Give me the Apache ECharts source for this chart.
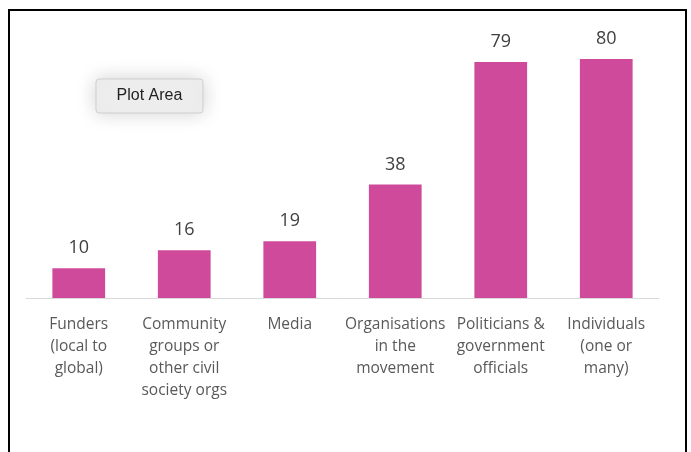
<!DOCTYPE html>
<html><head><meta charset="utf-8">
<script src="https://cdn.jsdelivr.net/npm/echarts@6/dist/echarts.min.js"></script>
<style>html,body{margin:0;padding:0;background:#fff}#c{width:691px;height:452px}</style>
</head><body><div id="c"></div>
<script>
const categories = ["Funders\n(local to\nglobal)", "Community\ngroups or\nother civil\nsociety orgs", "Media", "Organisations\nin the\nmovement", "Politicians &\ngovernment\nofficials", "Individuals\n(one or\nmany)"];
const values = [10, 16, 19, 38, 79, 80];

const chart = echarts.init(document.getElementById('c'));
chart.setOption({
  animation: false,
  backgroundColor: '#ffffff',
  grid: {left: 26, right: 32, top: 59, bottom: 154, containLabel: false},
  xAxis: {
    type: 'category', data: categories,
    axisLine: {lineStyle: {color: '#d9d9d9', width: 1}},
    axisTick: {show: false},
    axisLabel: {interval: 0, color: '#595959', fontFamily: 'Open Sans', fontSize: 15.5, lineHeight: 22, margin: 16}
  },
  yAxis: {type: 'value', min: 0, max: 80, show: false, splitLine: {show: false}},
  series: [{
    type: 'bar', data: values, barWidth: '50%',
    itemStyle: {color: '#CF4A9B'},
    label: {show: true, position: 'top', distance: 11, color: '#404040', fontFamily: 'Open Sans', fontSize: 18}
  }],
  graphic: [
    {type: 'rect', shape: {x: 9, y: 10, width: 677, height: 470}, style: {fill: 'none', stroke: '#000', lineWidth: 2}, silent: true},
    {type: 'rect', shape: {x: 96, y: 79, width: 107, height: 34, r: 3}, style: {fill: '#eeeeee', stroke: '#cfcfcf', lineWidth: 1, shadowBlur: 20, shadowColor: 'rgba(0,0,0,0.18)'}, z: 10},
    {type: 'text', x: 149.5, y: 96, style: {text: 'Plot Area', fill: '#222', font: '16px "Liberation Sans"', align: 'center', verticalAlign: 'middle'}, z: 11}
  ]
});
</script></body></html>
